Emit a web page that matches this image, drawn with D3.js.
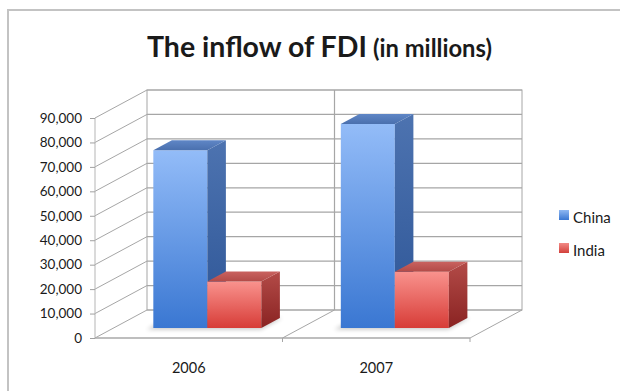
<!DOCTYPE html>
<html>
<head>
<meta charset="utf-8">
<script src="https://cdn.jsdelivr.net/npm/d3@7"></script>
<style>
  html, body { margin: 0; padding: 0; background: #fff; }
  svg { display: block; }
  text { font-family: Lato, "Open Sans", sans-serif; fill: #1a1a1a; }
</style>
</head>
<body>
<svg id="chart" width="620" height="391"></svg>
<script>
// ---- data ----
const categories = ["2006", "2007"];
const seriesNames = ["China", "India"];
const chinaValues = [72700, 83500];
const indiaValues = [19000, 23000];
const yTickValues = [0, 10000, 20000, 30000, 40000, 50000, 60000, 70000, 80000, 90000];
const titleMain = "The inflow of FDI";
const titleSub = "(in millions)";

const seriesValues = { China: chinaValues, India: indiaValues };

// ---- layout ----
const svg = d3.select("#chart");
const X0 = 95, X1 = 470;       // front floor edge
const DX = 52, DY = -28;       // depth of floor
const barF0 = 10 / 28, barF1 = 20 / 28; // bar depth fractions

const y = d3.scaleLinear().domain([0, 90000]).range([338, 118]);
const xBand = d3.scaleBand().domain(categories).range([X0, X1]).padding(0);
const bw = xBand.bandwidth();
const gap = bw * 0.212;
const xSeries = d3.scaleBand().domain(seriesNames).range([gap, bw - gap]).padding(0);

const P = (x, v, f) => [x + DX * f, y(v) + DY * f];
const poly = pts => pts.map(p => p.join(",")).join(" ");

// ---- defs ----
const defs = svg.append("defs");
function grad(id, c1, c2, horiz) {
  const g = defs.append("linearGradient").attr("id", id)
    .attr("x1", 0).attr("y1", 0).attr("x2", horiz ? 1 : 0).attr("y2", horiz ? 0 : 1);
  g.append("stop").attr("offset", "0%").attr("stop-color", c1);
  g.append("stop").attr("offset", "100%").attr("stop-color", c2);
}
const palette = {
  China: { front: ["#93bcf8", "#3a77d2"], side: ["#4d73b0", "#2d5596"], top: ["#5f86c6", "#4a70ae"], legend: ["#8fb8f2", "#3a77d2"] },
  India: { front: ["#f9928d", "#d73c37"], side: ["#b34b48", "#8a2322"], top: ["#c9625f", "#b24a47"], legend: ["#f28a86", "#d2403b"] }
};
seriesNames.forEach(s => {
  grad("front-" + s, palette[s].front[0], palette[s].front[1]);
  grad("side-" + s, palette[s].side[0], palette[s].side[1]);
  grad("top-" + s, palette[s].top[0], palette[s].top[1]);
  grad("leg-" + s, palette[s].legend[0], palette[s].legend[1]);
});
const blur = defs.append("filter").attr("id", "shadow").attr("x", "-20%").attr("y", "-50%").attr("width", "140%").attr("height", "200%");
blur.append("feGaussianBlur").attr("stdDeviation", 2.2);

// ---- frame ----
svg.append("rect").attr("x", 8).attr("y", 10).attr("width", 650).attr("height", 420)
  .attr("fill", "none").attr("stroke", "#c3c3c3").attr("stroke-width", 2);

// ---- title ----
function fitText(sel, target) {
  const w = sel.node().getComputedTextLength();
  const fs = parseFloat(sel.attr("font-size"));
  sel.attr("font-size", fs * target / w);
}
const t1 = svg.append("text").attr("x", 147).attr("y", 57).attr("font-weight", 700)
  .attr("font-size", 26).text(titleMain);
fitText(t1, 220);
const t2 = svg.append("text").attr("x", 373).attr("y", 57).attr("font-weight", 700)
  .attr("font-size", 17).text(titleSub);
fitText(t2, 119);

const gridColor = "#a6a6a6";

// ---- back wall ----
const back = svg.append("g");
back.append("rect").attr("x", X0 + DX).attr("y", y(90000) + DY)
  .attr("width", X1 - X0).attr("height", y(0) - y(90000))
  .attr("fill", "#fff").attr("stroke", gridColor);
back.selectAll("line.grid").data(yTickValues).join("line")
  .attr("x1", X0 + DX).attr("x2", X1 + DX)
  .attr("y1", d => y(d) + DY).attr("y2", d => y(d) + DY)
  .attr("stroke", gridColor).attr("stroke-width", 1.2);
back.selectAll("line.vdiv").data(categories.slice(1)).join("line")
  .attr("x1", d => xBand(d) + DX).attr("x2", d => xBand(d) + DX)
  .attr("y1", y(90000) + DY).attr("y2", y(0) + DY)
  .attr("stroke", gridColor).attr("stroke-width", 1.2);

// ---- left wall ----
const left = svg.append("g");
left.selectAll("line").data(yTickValues).join("line")
  .attr("x1", X0).attr("y1", d => y(d))
  .attr("x2", X0 + DX).attr("y2", d => y(d) + DY)
  .attr("stroke", gridColor).attr("stroke-width", 1);
left.append("line").attr("x1", X0).attr("x2", X0).attr("y1", y(0)).attr("y2", y(90000))
  .attr("stroke", "#b5b5b5").attr("stroke-width", 1);

// ---- floor ----
const floor = svg.append("g");
floor.append("line").attr("x1", X0).attr("x2", X1).attr("y1", y(0)).attr("y2", y(0))
  .attr("stroke", "#a9a9a9").attr("stroke-width", 1.6);
categories.slice(1).concat(["__end"]).forEach(c => {
  const x = c === "__end" ? X1 : xBand(c);
  floor.append("line").attr("x1", x).attr("y1", y(0)).attr("x2", x + DX).attr("y2", y(0) + DY)
    .attr("stroke", gridColor).attr("stroke-width", 1);
  floor.append("line").attr("x1", x).attr("y1", y(0)).attr("x2", x).attr("y2", y(0) + 4)
    .attr("stroke", gridColor).attr("stroke-width", 1);
});

// ---- y axis ticks / labels ----
const yAxisG = svg.append("g").attr("transform", `translate(${X0},0)`)
  .call(d3.axisLeft(y).tickValues(yTickValues).tickSize(5).tickPadding(8)
    .tickFormat(d3.format(",")));
yAxisG.select(".domain").remove();
yAxisG.selectAll(".tick line").attr("stroke", "#a0a0a0");
yAxisG.selectAll(".tick text").attr("font-family", "Lato, 'Open Sans', sans-serif")
  .attr("font-size", 13.5).attr("fill", "#1a1a1a");

// ---- category labels ----
svg.selectAll("text.cat").data(categories).join("text").attr("class", "cat")
  .attr("x", d => xBand(d) + bw / 2).attr("y", 373)
  .attr("text-anchor", "middle").attr("font-size", 14.5).text(d => d);

// ---- bars ----
const barsG = svg.append("g");
categories.forEach((c, ci) => {
  // shadow
  const sx0 = xBand(c) + xSeries(seriesNames[0]);
  const sx1 = xBand(c) + xSeries(seriesNames[seriesNames.length - 1]) + xSeries.bandwidth();
  const sh = [P(sx0 - 4, 0, barF0 - 0.05), P(sx1 + 2, 0, barF0 - 0.05), P(sx1 + 2, 0, barF1), P(sx0 - 4, 0, barF1)];
  barsG.append("polygon").attr("points", poly(sh)).attr("fill", "#000").attr("opacity", 0.22)
    .attr("filter", "url(#shadow)");
  seriesNames.forEach(s => {
    const v = seriesValues[s][ci];
    const xa = xBand(c) + xSeries(s), xb = xa + xSeries.bandwidth();
    const g = barsG.append("g");
    // front face
    const fA = P(xa, v, barF0), fB = P(xb, 0, barF0);
    g.append("rect").attr("x", fA[0]).attr("y", fA[1])
      .attr("width", fB[0] - fA[0]).attr("height", fB[1] - fA[1])
      .attr("fill", `url(#front-${s})`);
    // side face
    g.append("polygon").attr("points", poly([P(xb, v, barF0), P(xb, v, barF1), P(xb, 0, barF1), P(xb, 0, barF0)]))
      .attr("fill", `url(#side-${s})`);
    // top face
    g.append("polygon").attr("points", poly([P(xa, v, barF0), P(xb, v, barF0), P(xb, v, barF1), P(xa, v, barF1)]))
      .attr("fill", `url(#top-${s})`);
  });
});

// ---- legend ----
const legend = svg.append("g");
const legY = { China: 215, India: 248 };
seriesNames.forEach(s => {
  legend.append("rect").attr("x", 559).attr("y", legY[s] - 5).attr("width", 10).attr("height", 10)
    .attr("fill", `url(#leg-${s})`);
  legend.append("text").attr("x", 573).attr("y", legY[s] + 8).attr("font-size", 15).text(s);
});
</script>
</body>
</html>
